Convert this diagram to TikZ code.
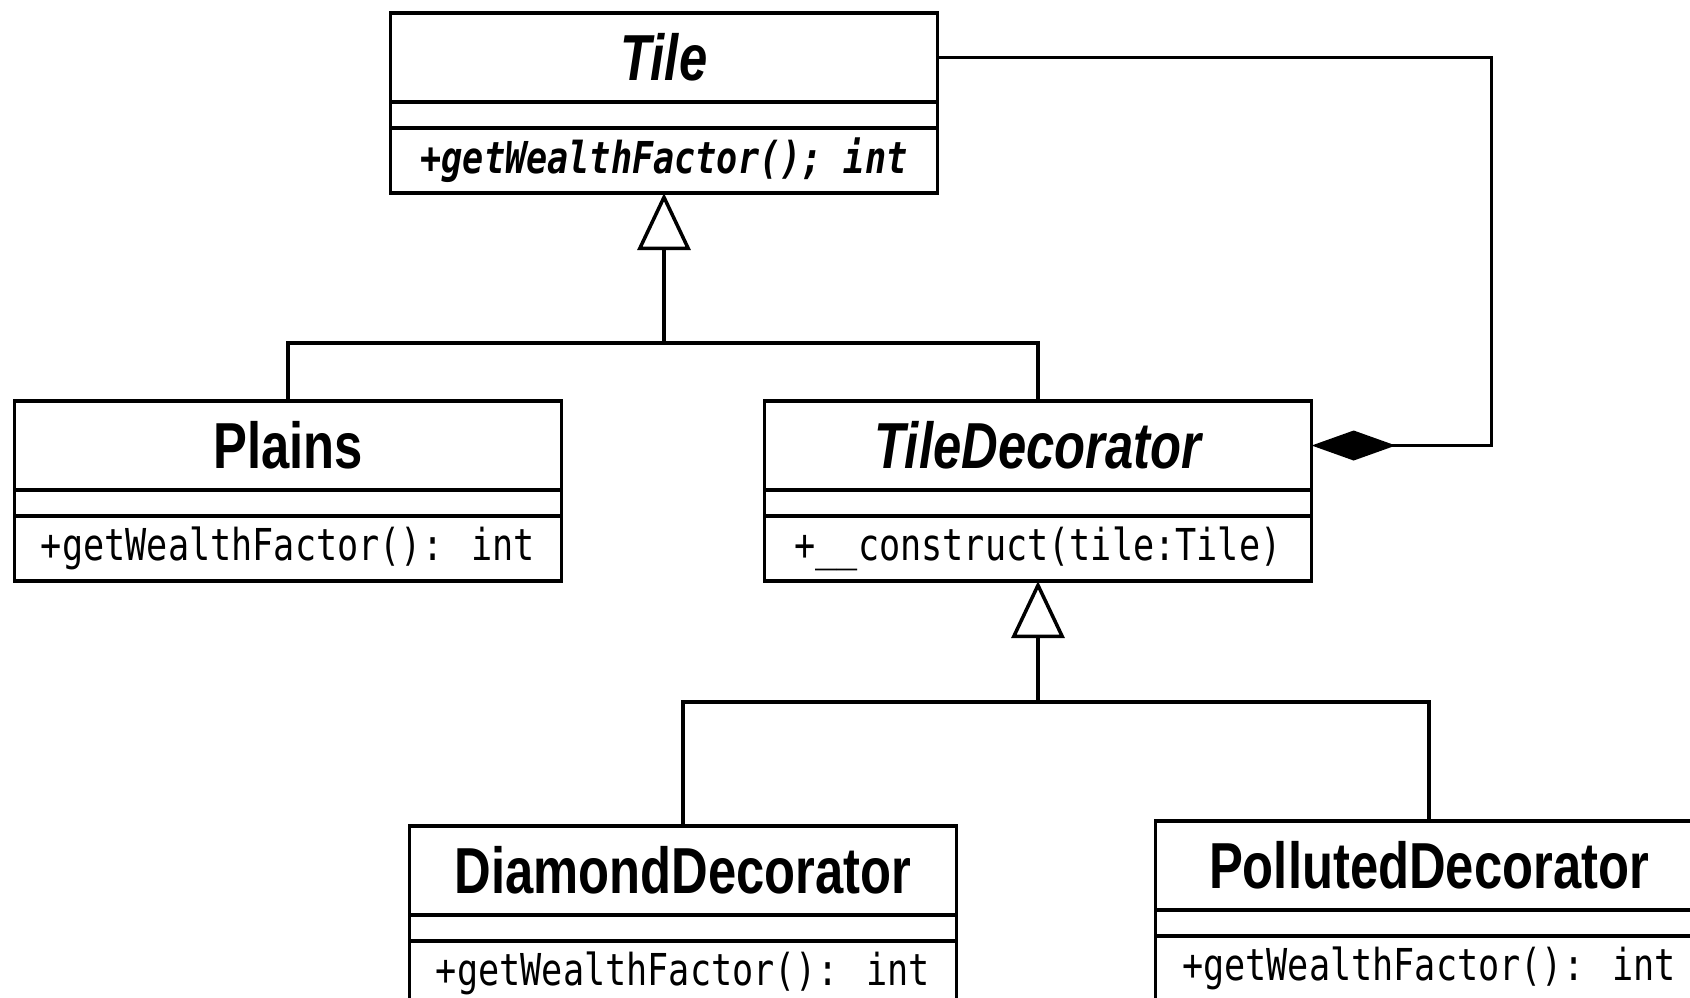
\documentclass[tikz,border=0pt]{standalone}
\usepackage{fontspec}
\usepackage{tikz}
\usetikzlibrary{arrows.meta}
\newfontfamily\classfont[FakeStretch=0.78]{Liberation Sans}
\newfontfamily\opsfont[FakeStretch=0.8]{DejaVu Sans Mono}

\begin{document}
\begin{tikzpicture}[x=0.01cm, y=-0.01cm,
    line width=1pt,
    headBox/.style={draw, anchor=north, minimum width=5.47cm, minimum height=0.89cm, inner sep=0pt, outer sep=0pt, font=\classfont\bfseries\fontsize{18.5}{20}\selectfont},
    attrBox/.style={draw, anchor=north, minimum width=5.47cm, minimum height=0.26cm, inner sep=0pt, outer sep=0pt},
    opsBox/.style={draw, anchor=north, minimum width=5.47cm, minimum height=0.65cm, inner sep=0pt, outer sep=0pt, font=\opsfont\fontsize{12.5}{14}\selectfont},
    isaArrow/.style={-{Triangle[open, length=0.57cm, width=0.53cm]}},
    hasArrow/.style={{Diamond[length=0.84cm, width=0.30cm]}-}]

\clip (0,0) rectangle (1690,998);

% Abstract component
\node[headBox] (tileHead) at (664,13) {\itshape Tile};
\node[attrBox] (tileAttr) at (tileHead.south) {};
\node[opsBox] (tileOps) at (tileAttr.south) {\bfseries\itshape +getWealthFactor(); int};

% Concrete component
\node[headBox] (plainsHead) at (288,401) {Plains};
\node[attrBox] (plainsAttr) at (plainsHead.south) {};
\node[opsBox] (plainsOps) at (plainsAttr.south) {+getWealthFactor(): int};

% Abstract decorator
\node[headBox] (decoHead) at (1038,401) {\itshape TileDecorator};
\node[attrBox] (decoAttr) at (decoHead.south) {};
\node[opsBox] (decoOps) at (decoAttr.south) {+\_\_construct(tile:Tile)};

% Concrete decorators
\node[headBox] (diamondHead) at (683,826) {DiamondDecorator};
\node[attrBox] (diamondAttr) at (diamondHead.south) {};
\node[opsBox] (diamondOps) at (diamondAttr.south) {+getWealthFactor(): int};

\node[headBox] (pollutedHead) at (1429,821) {PollutedDecorator};
\node[attrBox] (pollutedAttr) at (pollutedHead.south) {};
\node[opsBox] (pollutedOps) at (pollutedAttr.south) {+getWealthFactor(): int};

% Generalisations
\coordinate (tileJoin) at (664,343);
\draw (plainsHead.north) |- (tileJoin) -| (decoHead.north);
\draw[isaArrow] (tileJoin) -- (tileOps.south);

\coordinate (decoJoin) at (1038,702);
\draw (diamondHead.north) |- (decoJoin) -| (pollutedHead.north);
\draw[isaArrow] (decoJoin) -- (decoOps.south);

% Composition: decorator holds a tile
\draw[hasArrow] (decoHead.east) -- ++(180,0) |- (tileHead.east);

\end{tikzpicture}
\end{document}
